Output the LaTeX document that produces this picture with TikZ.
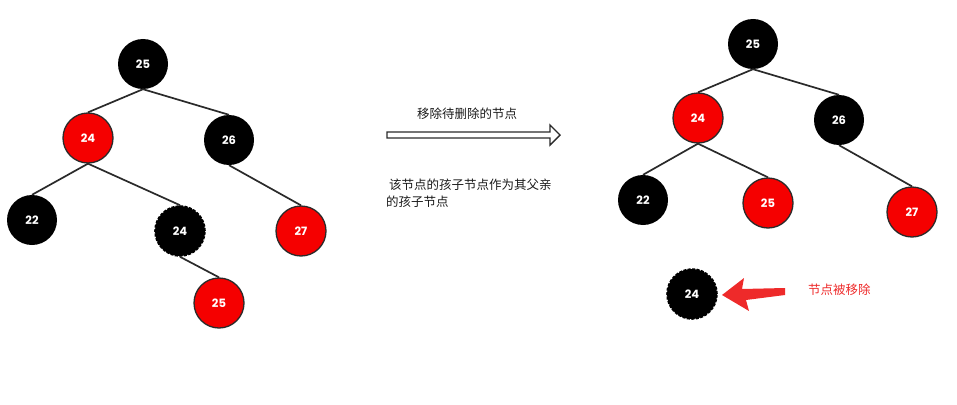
\documentclass[tikz,border=0pt]{standalone}
\usepackage{fontspec}
\newfontfamily\cjk{Noto Sans CJK SC}
\newfontfamily\numfont{Poppins}
\definecolor{edgegray}{HTML}{2A2A2A}
\definecolor{nodered}{HTML}{F50000}
\definecolor{arrowred}{HTML}{EE2A2A}
\definecolor{textgray}{HTML}{1A1A1A}
\begin{document}
\begin{tikzpicture}[x=1pt,y=-1pt,
  rbnode/.style={circle,minimum size=50pt,inner sep=0pt,text=white,font=\numfont\bfseries\fontsize{11.5}{12}\selectfont},
  blacknode/.style={rbnode,fill=black},
  rednode/.style={rbnode,fill=nodered,draw=edgegray,line width=1.3pt},
  gonenode/.style={rbnode,fill=black,draw=black,line width=1.6pt,dash pattern=on 3pt off 1.5pt},
  treeedge/.style={draw=edgegray,line width=1.7pt},
  cjktext/.style={font=\cjk\fontsize{12.5}{17}\selectfont,text=textgray,inner sep=0pt}
]
\useasboundingbox (0,0) rectangle (957,404);
% left tree
\node[blacknode] (L25) at (143,64) {25};
\node[rednode]   (L24) at (88,138) {24};
\node[blacknode] (L26) at (229,140) {26};
\node[blacknode] (L22) at (32,220) {22};
\node[gonenode]  (LX24) at (180,231) {24};
\node[rednode]   (L27) at (301,231) {27};
\node[rednode]   (L25b) at (219,303) {25};
\draw[treeedge] (L25.south) -- (L24.north);
\draw[treeedge] (L25.south) -- (L26.north);
\draw[treeedge] (L24.south) -- (L22.north);
\draw[treeedge] (L24.south) -- (LX24.north);
\draw[treeedge] (L26.south) -- (L27.north);
\draw[treeedge] (LX24.south) -- (L25b.north);
% middle
\node[cjktext] (t1) at (467,114) {移除待删除的节点};
\draw[edgegray,line width=1.4pt,fill=white] (387,132) -- (550,132) -- (550,125) -- (560,135) -- (550,145) -- (550,138) -- (387,138) -- cycle;
\node[cjktext,anchor=north west,align=left] (t2) at (386,179) {\hspace{3pt}该节点的孩子节点作为其父亲\\的孩子节点};
% right tree
\node[blacknode] (R25) at (753,44) {25};
\node[rednode]   (R24) at (698,118) {24};
\node[blacknode] (R26) at (839,120) {26};
\node[blacknode] (R22) at (643,200) {22};
\node[rednode]   (R25b) at (768,203) {25};
\node[rednode]   (R27) at (912,212) {27};
\draw[treeedge] (R25.south) -- (R24.north);
\draw[treeedge] (R25.south) -- (R26.north);
\draw[treeedge] (R24.south) -- (R22.north);
\draw[treeedge] (R24.south) -- (R25b.north);
\draw[treeedge] (R26.south) -- (R27.north);
% removed node
\node[gonenode] (RX24) at (692,294) {24};
\node[cjktext,text=arrowred,anchor=west] (t3) at (808,290) {节点被移除};
\fill[arrowred] (722,295) -- (744,278) -- (742,289) -- (785,288) -- (785,295) -- (746,300) -- (749,311) -- cycle;
\end{tikzpicture}
\end{document}
